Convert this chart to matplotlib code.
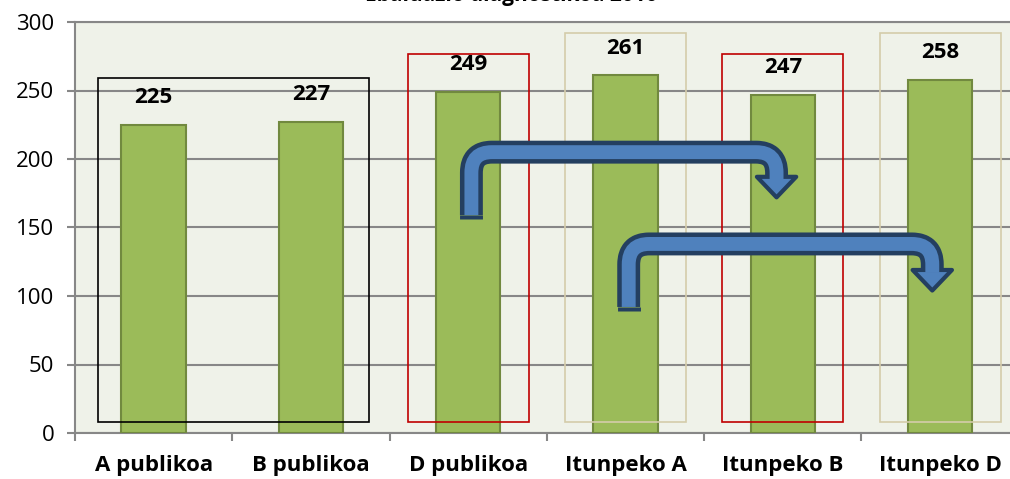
import matplotlib.pyplot as plt
from matplotlib.path import Path
from matplotlib.patches import PathPatch, Polygon, Rectangle

categories = ["A publikoa", "B publikoa", "D publikoa", "Itunpeko A", "Itunpeko B", "Itunpeko D"]
values = [225, 227, 249, 261, 247, 258]
title = "Ebaluazio diagnostikoa 2010"

# frames around groups: (first cat, last cat, top value, colour)
frames = [(0, 1, 259, "black"), (2, 2, 277, "#C00000"), (3, 3, 292, "#D4CCAA"),
          (4, 4, 277, "#C00000"), (5, 5, 292, "#D4CCAA")]

# bent arrows: stem x, stem bottom, shaft y, end x, head base, tip
arrows = [(2.02, 159, 205, 3.96, 187, 172), (3.02, 92, 138, 4.95, 119, 104)]

plt.rcParams["font.family"] = ["Open Sans", "DejaVu Sans"]

fig = plt.figure(figsize=(10.1, 4.79), dpi=100)
ax = fig.add_axes([75 / 1010, 1 - 433 / 479, 6 * 157.3 / 1010, 411 / 479])
ax.set_facecolor("#EFF2E9")

x = range(len(categories))
ax.bar(x, values, width=0.41, color="#9BBB59", edgecolor="#71893F", linewidth=1.5, zorder=3)
for i, v in enumerate(values):
    ax.annotate(str(v), (i, v), xytext=(0, 12), textcoords="offset points",
                ha="center", va="bottom", fontsize=16, fontweight="bold", zorder=6)

for a, b, top, col in frames:
    ax.add_patch(Rectangle((a - 0.385 if a == b else a - 0.356, 8),
                           (b - a) + (0.77 if a == b else 0.723), top - 8,
                           fill=False, edgecolor=col, linewidth=1.2, zorder=4))

gray = "#878787"
ax.set_xlim(-0.5, 5.5)
ax.set_ylim(0, 300)
ax.set_yticks(range(0, 301, 50))
ax.yaxis.grid(True, color=gray, linewidth=1.5, zorder=1)
ax.set_axisbelow(True)
for s in ["left", "bottom", "top"]:
    ax.spines[s].set_color(gray)
    ax.spines[s].set_linewidth(1.5)
ax.spines["right"].set_visible(False)
ax.tick_params(axis="y", colors=gray, length=6, width=1.5, labelsize=16, labelcolor="black", pad=9)
ax.set_xticks(list(x))
ax.set_xticklabels(categories, fontsize=16, fontweight="bold")
ax.tick_params(axis="x", length=0, pad=16)
ax.set_xticks([i + 0.5 for i in range(-1, 6)], minor=True)
ax.tick_params(axis="x", which="minor", length=6, width=1.5, colors=gray)

# bent arrows
rx, ry = 0.13, 15
for x0, yb, yh, x1, ybase, tip in arrows:
    verts = [(x0, yb), (x0, yh - ry), (x0, yh), (x0 + rx, yh), (x1 - rx, yh),
             (x1, yh), (x1, yh - ry), (x1, ybase)]
    codes = [Path.MOVETO, Path.LINETO, Path.CURVE3, Path.CURVE3, Path.LINETO,
             Path.CURVE3, Path.CURVE3, Path.LINETO]
    ax.add_patch(PathPatch(Path(verts, codes), fill=False, edgecolor="#243F60",
                           linewidth=16.5, capstyle="butt", joinstyle="round", zorder=7))
    # dark cap at stem bottom
    ax.add_patch(PathPatch(Path([(x0, yb), (x0, yb - 3)]), fill=False, edgecolor="#243F60",
                           linewidth=16.5, capstyle="butt", zorder=7))
    ax.add_patch(Polygon([(x1 - 0.125, ybase), (x1 + 0.125, ybase), (x1, tip)], closed=True,
                         facecolor="#4F81BD", edgecolor="#243F60", linewidth=3,
                         joinstyle="round", zorder=8))
    verts2 = verts[:-1] + [(x1, ybase - 2)]
    ax.add_patch(PathPatch(Path(verts2, codes), fill=False, edgecolor="#4F81BD",
                           linewidth=10, capstyle="butt", zorder=9))

fig.text(511 / 1010, 1 - 1 / 479, title, ha="center", va="baseline",
         fontsize=15, fontweight="bold")

fig.savefig("out.png", dpi=100)
